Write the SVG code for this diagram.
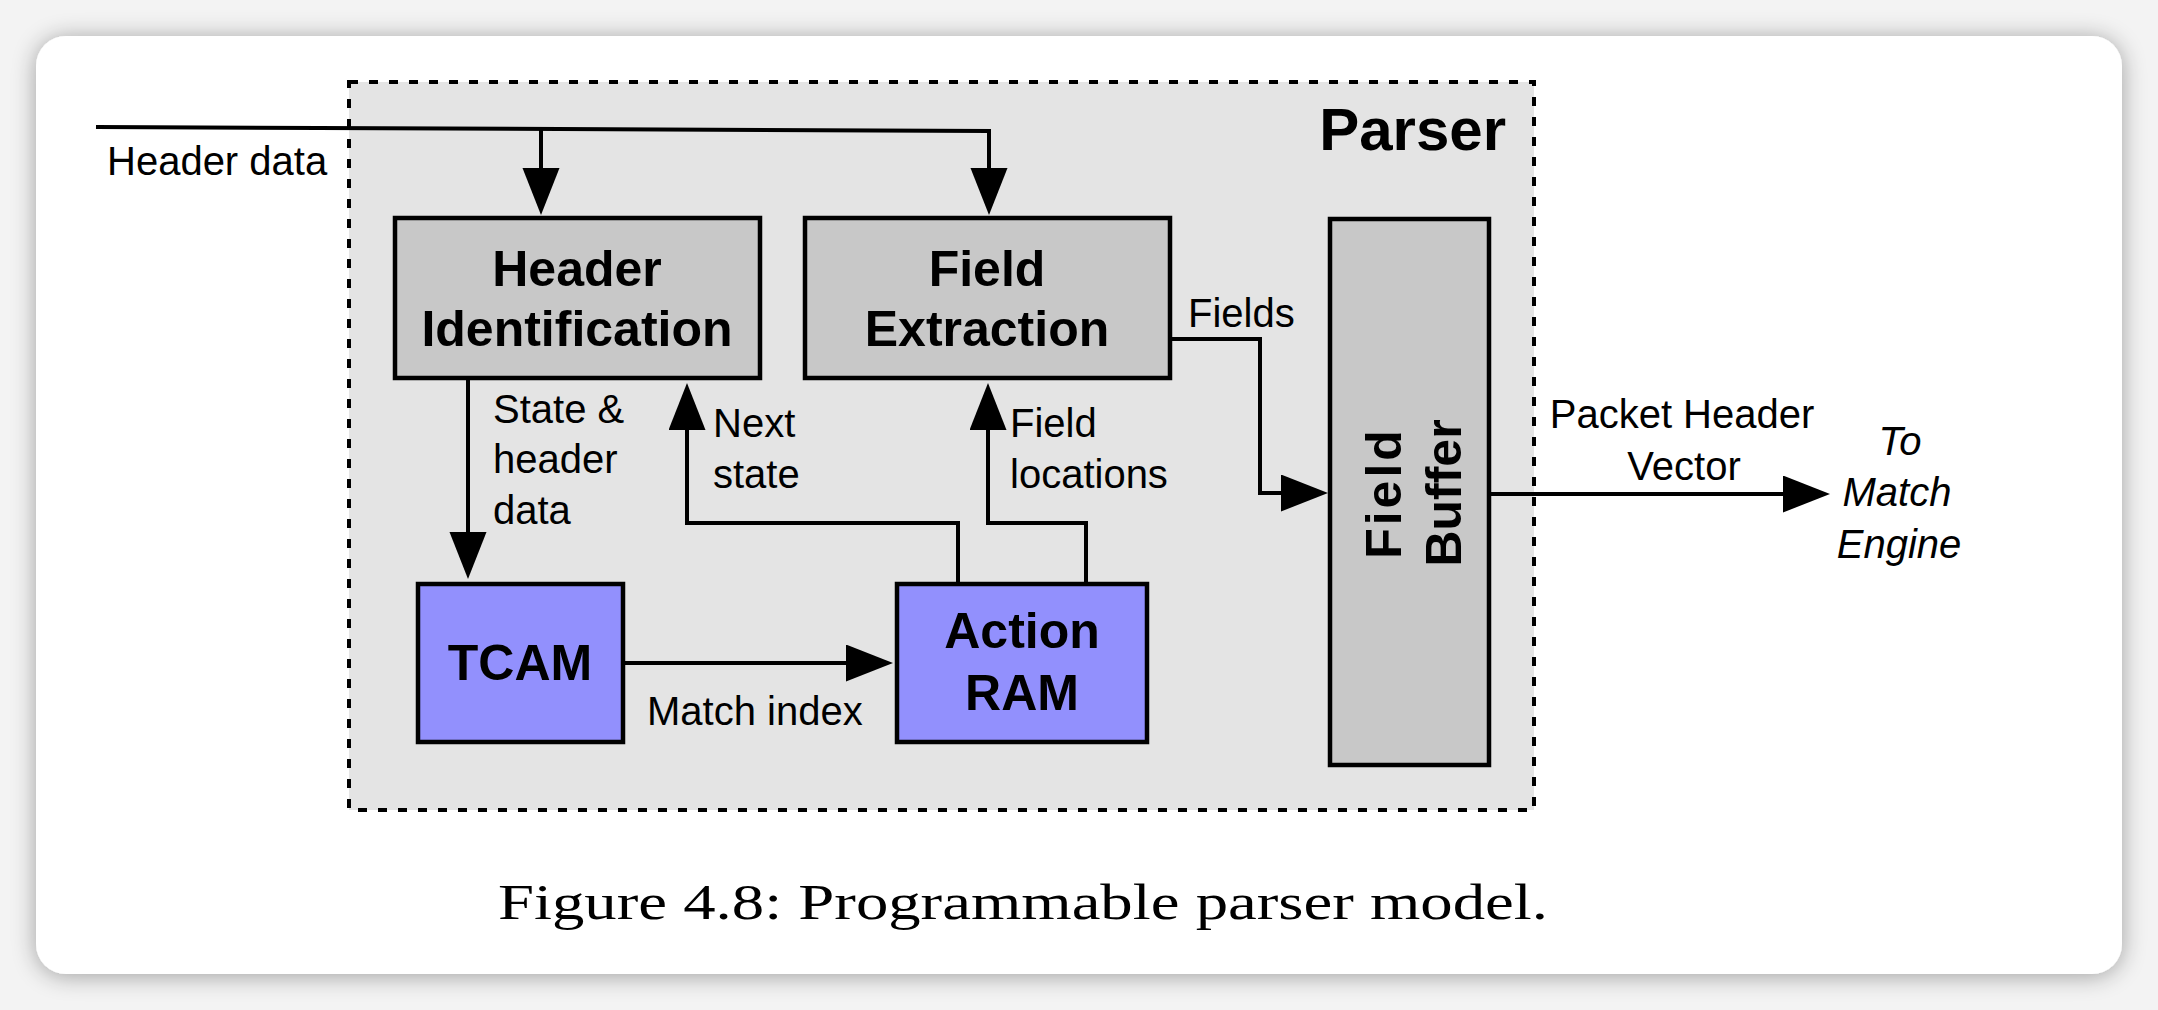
<svg xmlns="http://www.w3.org/2000/svg" width="2158" height="1010" viewBox="0 0 2158 1010">
  <defs>
    <filter id="shadow" x="-5%" y="-10%" width="110%" height="120%">
      <feGaussianBlur in="SourceAlpha" stdDeviation="12"/>
      <feOffset dx="0" dy="2" result="b"/>
      <feComponentTransfer><feFuncA type="linear" slope="0.35"/></feComponentTransfer>
      <feMerge><feMergeNode/><feMergeNode in="SourceGraphic"/></feMerge>
    </filter>
    <marker id="arrow" markerUnits="userSpaceOnUse" markerWidth="48" markerHeight="38" refX="1" refY="18.5" orient="auto">
      <path d="M0,0 L47,18.5 L0,37 z" fill="#000"/>
    </marker>
    <style>
      .box { fill: #c8c8c8; stroke: #000; stroke-width: 4.5; }
      .mem { fill: #9290fd; stroke: #000; stroke-width: 4.5; }
      .wire { fill: none; stroke: #000; stroke-width: 4; stroke-linejoin: miter; }
      .arr { marker-end: url(#arrow); }
      .title { font-family: "Liberation Sans", Arial, sans-serif; font-weight: bold; font-size: 50px; fill: #000; text-anchor: middle; }
      .lbl { font-family: "Liberation Sans", Arial, sans-serif; font-size: 40px; fill: #000; }
      .ital { font-family: "Liberation Sans", Arial, sans-serif; font-size: 40px; font-style: italic; fill: #000; text-anchor: middle; }
    </style>
  </defs>

  <rect x="0" y="0" width="2158" height="1010" fill="#f3f3f3"/>
  <rect id="card" x="36" y="36" width="2086" height="938" rx="30" ry="30" fill="#ffffff" filter="url(#shadow)"/>

  <g id="parser">
    <rect x="349" y="82" width="1185" height="728" fill="#e4e4e4" stroke="#000" stroke-width="4" stroke-dasharray="9 11"/>
    <text x="1506" y="150" font-family="Liberation Sans, Arial, sans-serif" font-weight="bold" font-size="60" text-anchor="end">Parser</text>
  </g>

  <g id="connectors">
    <path class="wire arr" d="M96,127 L989,131 L989,169"/>
    <path class="wire arr" d="M541,129 L541,169"/>
    <path class="wire arr" d="M468,380 L468,533"/>
    <path class="wire arr" d="M958,582 L958,523 L687,523 L687,429"/>
    <path class="wire arr" d="M1086,582 L1086,523 L988,523 L988,429"/>
    <path class="wire arr" d="M625,663 L847,663"/>
    <path class="wire arr" d="M1172,339 L1260,339 L1260,493 L1282,493"/>
    <path class="wire arr" d="M1491,494 L1784,494"/>
  </g>

  <g id="labels">
    <text class="lbl" x="107" y="175">Header data</text>
    <text class="lbl" x="493" y="423">State &amp;</text>
    <text class="lbl" x="493" y="473">header</text>
    <text class="lbl" x="493" y="524">data</text>
    <text class="lbl" x="713" y="437">Next</text>
    <text class="lbl" x="713" y="488">state</text>
    <text class="lbl" x="1010" y="437">Field</text>
    <text class="lbl" x="1010" y="488">locations</text>
    <text class="lbl" x="647" y="725">Match index</text>
    <text class="lbl" x="1188" y="327">Fields</text>
    <text class="lbl" x="1682" y="428" text-anchor="middle">Packet Header</text>
    <text class="lbl" x="1684" y="480" text-anchor="middle">Vector</text>
    <text class="ital" x="1900" y="455">To</text>
    <text class="ital" x="1897" y="506">Match</text>
    <text class="ital" x="1899" y="558">Engine</text>
  </g>

  <g id="header-identification">
    <rect class="box" x="395" y="218" width="365" height="160"/>
    <text class="title" x="577" y="286">Header</text>
    <text class="title" x="577" y="346">Identification</text>
  </g>

  <g id="field-extraction">
    <rect class="box" x="805" y="218" width="365" height="160"/>
    <text class="title" x="987" y="286">Field</text>
    <text class="title" x="987" y="346">Extraction</text>
  </g>

  <g id="field-buffer">
    <rect class="box" x="1330" y="219" width="159" height="546"/>
    <text class="title" transform="translate(1401,493) rotate(-90)" letter-spacing="3">Field</text>
    <text class="title" transform="translate(1461,493) rotate(-90)">Buffer</text>
  </g>

  <g id="tcam">
    <rect class="mem" x="418" y="584" width="205" height="158"/>
    <text class="title" x="520" y="680">TCAM</text>
  </g>

  <g id="action-ram">
    <rect class="mem" x="897" y="584" width="250" height="158"/>
    <text class="title" x="1022" y="648">Action</text>
    <text class="title" x="1022" y="710">RAM</text>
  </g>

  <text id="caption" x="498" y="919" font-family="Liberation Serif, 'Times New Roman', serif" font-size="50" textLength="1050" lengthAdjust="spacingAndGlyphs">Figure 4.8: Programmable parser model.</text>
</svg>
